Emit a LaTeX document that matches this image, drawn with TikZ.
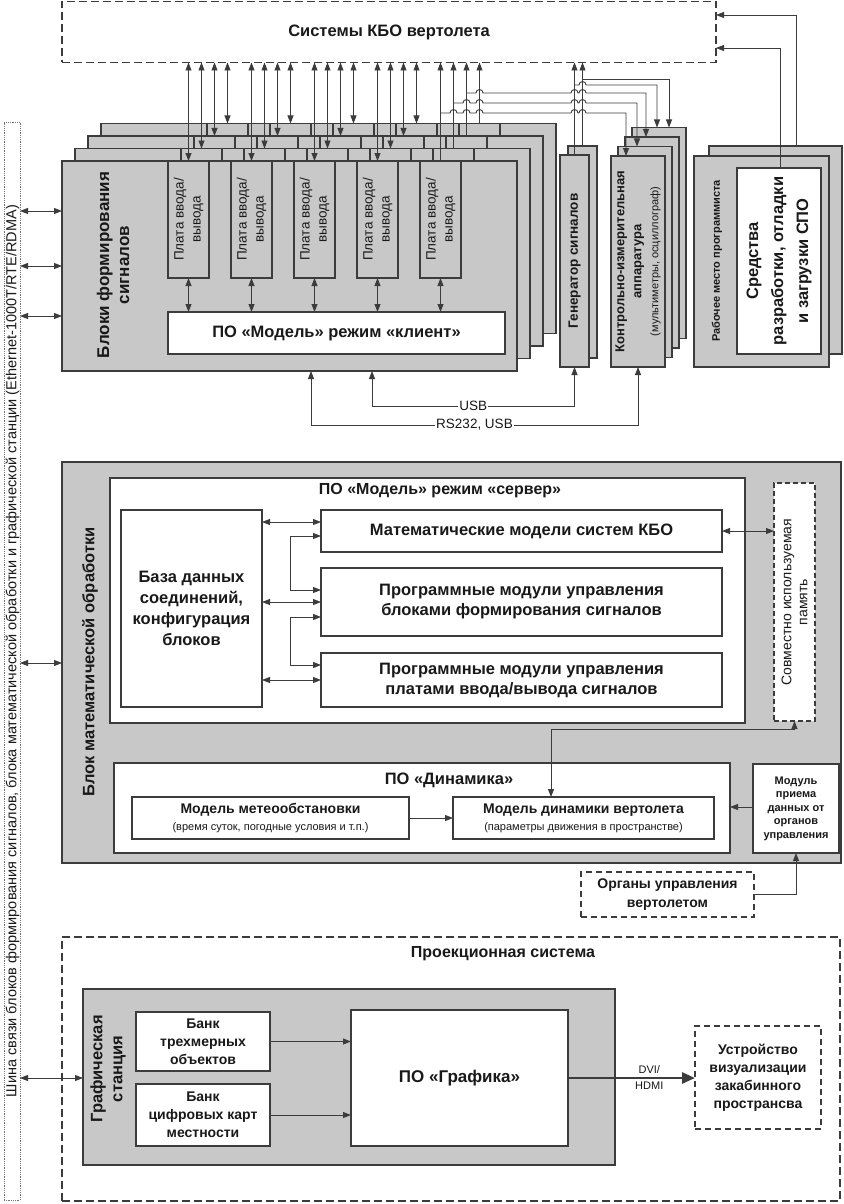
\documentclass[tikz,border=0pt]{standalone}
\usepackage{fontspec}
\usepackage{graphicx}
\setmainfont{Liberation Sans}
\usetikzlibrary{arrows.meta}
\definecolor{gbg}{RGB}{200,200,200}
\definecolor{ln}{RGB}{60,60,60}
\newcommand\fz[2]{\fontsize{#1}{#2}\selectfont}
\begin{document}
\begin{tikzpicture}[x=1pt,y=-1pt,
  every node/.style={inner sep=0pt,outer sep=0pt,text=black!90},
  sz/.style 2 args={minimum width=#1pt,minimum height=#2pt},
  plane/.style={draw=ln,fill=gbg,line width=1.3pt,anchor=north west},
  wbox/.style={draw=ln,fill=white,line width=1.3pt,anchor=north west},
  dbox/.style={draw=ln,fill=white,line width=1.4pt,dash pattern=on 8pt off 4pt,anchor=north west},
  con/.style={draw=ln,line width=0.9pt,>={Triangle[length=8pt,width=6pt]}},
  lbl/.style={fill=white,inner xsep=1pt,font=\fz{13.5}{16}},
  bt/.style={font=\bfseries\fz{16.5}{20},align=center},
]
\fill[white] (0,0) rectangle (843,1204);
\useasboundingbox (0,0) rectangle (843,1204);

% top system box
\node[dbox,sz={654}{61},font=\bfseries\fz{16.5}{20}] (kbo) at (62,1.5) {Системы КБО вертолета};

% bus
\node[draw=ln!70,densely dotted,line width=0.8pt,sz={16}{1078},anchor=north west] (bus) at (4,122) {};
\node[rotate=90,font=\fz{14.5}{17}] (bustext) at (12.5,651) {\resizebox{892pt}{\height}{Шина связи блоков формирования сигналов, блока математической обработки и графической станции (Ethernet-1000T/RTE/RDMA)}};

% signal forming blocks (stack)
\foreach \k in {3,2,1}{
  \node[plane,sz={455}{210}] (sp\k) at ({62+13*\k},{161-12.5*\k}) {};
  \foreach \j in {0,...,4}{
    \node[plane,sz={41}{117}] (c\k\j) at ({168+63*\j+13*\k},{161-12.5*\k}) {};
  }
}
\node[plane,sz={455}{210}] (sp0) at (62,161) {};
\foreach \j in {0,...,4}{
  \node[plane,sz={41}{117}] (c0\j) at ({168+63*\j},161) {};
  \node[rotate=90,font=\fz{13.5}{17},align=center] at (c0\j.center) {Плата ввода/\\вывода};
}
\node[rotate=90,bt,font=\bfseries\fz{17}{20}] (sptext) at (113,265) {Блоки формирования\\сигналов};
\node[wbox,sz={337}{42},font=\bfseries\fz{16.5}{20}] (cl) at (168,312) {ПО «Модель» режим «клиент»};
\foreach \j in {0,...,4}{
  \draw[con,<->] (c0\j.south) -- (c0\j.south |- cl.north);
}

% generator
\node[plane,sz={29}{212}] (gb) at (568,146) {};
\node[plane,sz={29}{212}] (gf) at (560,155) {};
\node[rotate=90,font=\bfseries\fz{13.5}{16}] at (gf.center) {Генератор сигналов};

% measuring instruments
\foreach \k in {3,2,1}{
  \node[plane,sz={54}{211}] (I\k) at ({611+7*\k},{156-9.5*\k}) {};
}
\node[plane,sz={54}{211}] (I0) at (611,156) {};
\node[rotate=90,align=center,font=\fz{11}{17}] at (I0.center) {{\bfseries\fz{13}{19}Контрольно-измерительная}\\{\bfseries\fz{13}{19}аппаратура}\\(мультиметры, осциллограф)};

% programmer workstation
\node[plane,sz={133}{208}] (wb) at (709,146) {};
\node[plane,sz={135}{211}] (wf) at (694,156) {};
\node[wbox,sz={84}{186}] (ww) at (737,168) {};
\node[rotate=90,font=\bfseries\fz{11}{13}] at (717,261) {Рабочее место программиста};
\node[rotate=90,font=\bfseries\fz{16.5}{25},align=center] at (ww.center) {Средства\\разработки, отладки\\и загрузки СПО};

% vertical links to the system box
\foreach \j in {0,...,3}{
  \foreach \k in {0,...,3}{
    \draw[con,<->] (c\k\j.north |- kbo.south) -- (c\k\j.north);
  }
}
\foreach \k in {0,...,3}{
  \draw[con,<-] (c\k4.north |- kbo.south) -- (c\k4.north);
}
\draw[con,<-] (gf.north |- kbo.south) -- (gf.north);
\draw[con,<-] (gb.north |- kbo.south) -- (gb.north);

% branches to instruments (with hops)
\draw[con,->] (c04.north |- 0,113) -- (450,113) arc[start angle=180,end angle=360,radius=3.5]
  -- (463,113) arc[start angle=180,end angle=360,radius=3.5]
  -- (476,113) arc[start angle=180,end angle=360,radius=3.5]
  -- (571,113) arc[start angle=180,end angle=360,radius=3.5]
  -- (579,113) arc[start angle=180,end angle=360,radius=3.5]
  -- (626,113) -- (I0.north -| 626,0);
\draw[con,->] (c14.north |- 0,103)
  -- (463,103) arc[start angle=180,end angle=360,radius=3.5]
  -- (476,103) arc[start angle=180,end angle=360,radius=3.5]
  -- (571,103) arc[start angle=180,end angle=360,radius=3.5]
  -- (579,103) arc[start angle=180,end angle=360,radius=3.5]
  -- (637,103) -- (I1.north -| 637,0);
\draw[con,->] (c24.north |- 0,93)
  -- (476,93) arc[start angle=180,end angle=360,radius=3.5]
  -- (571,93) arc[start angle=180,end angle=360,radius=3.5]
  -- (579,93) arc[start angle=180,end angle=360,radius=3.5]
  -- (646,93) -- (I2.north -| 646,0);
\draw[con,->] (gf.north |- 0,85)
  -- (579,85) arc[start angle=180,end angle=360,radius=3.5]
  -- (657,85) -- (I3.north -| 657,0);
\draw[con,->] (gb.north |- 0,79) -- (669,79) -- (I3.north -| 669,0);

% workstation to system box
\draw[con,->] (wb.north -| 796,0) -- (796,15) -- (kbo.east |- 0,15);
\draw[con,->] (ww.north -| 780,0) -- (780,48) -- (kbo.east |- 0,48);

% USB / RS232
\draw[con,<->] (sp0.south -| 372,0) -- (372,406) -- node[lbl]{USB} (gf.south |- 0,406) -- (gf.south);
\draw[con,<->] (sp0.south -| 311,0) -- (311,425) -- node[lbl]{RS232, USB} (I0.south |- 0,425) -- (I0.south);

% bus links (top)
\foreach \yy in {211,266,316}{
  \draw[con,<->] (bus.east |- 0,\yy) -- (sp0.west |- 0,\yy);
}

% math block
\node[plane,sz={779}{401}] (math) at (62,462) {};
\node[rotate=90,font=\bfseries\fz{16.5}{20}] at (90,662) {Блок математической обработки};
\draw[con,<->] (bus.east |- 0,663) -- (math.west |- 0,663);
\node[wbox,sz={635}{245}] (srv) at (110,478) {};
\node[font=\bfseries\fz{16}{20}] at (440,491) {ПО «Модель» режим «сервер»};
\node[wbox,sz={141}{197},bt,font=\bfseries\fz{16.5}{21}] (db) at (121,510) {База данных\\соединений,\\конфигурация\\блоков};
\node[wbox,sz={401}{42},bt] (m1) at (321,510) {Математические модели систем КБО};
\node[wbox,sz={401}{68},bt] (m2) at (321,568) {Программные модули управления\\блоками формирования сигналов};
\node[wbox,sz={401}{54},bt] (m3) at (321,653) {Программные модули управления\\платами ввода/вывода сигналов};
\foreach \yy in {522,602,680}{
  \draw[con,<->] (db.east |- 0,\yy) -- (m1.west |- 0,\yy);
}
\draw[con,<->] (m1.west |- 0,536) -- (290,536) -- (290,590) -- (m2.west |- 0,590);
\draw[con,<->] (m2.west |- 0,617) -- (290,617) -- (290,665) -- (m3.west |- 0,665);
\node[draw=ln,fill=white,line width=1.1pt,dash pattern=on 5pt off 3pt,anchor=north west,sz={41}{238}] (mem) at (774,483) {};
\node[rotate=90,align=center,font=\fz{14}{16}] at (mem.center) {Совместно используемая\\память};
\draw[con,<->] (m1.east) -- (mem.west |- m1.east);

\node[wbox,sz={616}{90}] (dynpo) at (114,763) {};
\node[font=\bfseries\fz{16.5}{20}] at (449,780) {ПО «Динамика»};
\node[wbox,sz={277}{42},align=center,font=\fz{11}{17}] (meteo) at (132,797) {{\bfseries\fz{14}{17}Модель метеообстановки}\\(время суток, погодные условия и т.п.)};
\node[wbox,sz={261}{42},align=center,font=\fz{11}{17}] (dyn) at (453,797) {{\bfseries\fz{14}{17}Модель динамики вертолета}\\(параметры движения в пространстве)};
\draw[con,->] (meteo.east) -- (dyn.west);
\draw[con,<->] (mem.south) -- (mem.south |- 0,729) -- (551,729) -- (dyn.north -| 551,0);
\node[wbox,sz={86}{89},align=center,font=\bfseries\fz{11}{13.5}] (mod) at (753,764) {Модуль\\приема\\данных от\\органов\\управления};
\draw[con,->] (mod.west |- 0,807) -- (dynpo.east |- 0,807);
\node[dbox,sz={173}{45},dash pattern=on 6pt off 4pt,align=center,font=\bfseries\fz{14}{19}] (org) at (581,872) {Органы управления\\вертолетом};
\draw[con,->] (org.east) -| (mod.south);

% projection system
\node[dbox,sz={778}{264}] (proj) at (62,937) {};
\node[font=\bfseries\fz{16}{20}] at (503,954) {Проекционная система};
\node[plane,sz={532}{176}] (gs) at (83,989) {};
\node[rotate=90,align=center,font=\bfseries\fz{16.5}{20}] at (108,1069) {Графическая\\станция};
\draw[con,<->] (bus.east |- 0,1078) -- (gs.west |- 0,1078);
\node[wbox,sz={134}{59},align=center,font=\bfseries\fz{14}{18}] (bank1) at (136,1012) {Банк\\трехмерных\\объектов};
\node[wbox,sz={134}{62},align=center,font=\bfseries\fz{14}{18}] (bank2) at (136,1084) {Банк\\цифровых карт\\местности};
\node[wbox,sz={217}{136},font=\bfseries\fz{17}{20}] (graf) at (351,1010) {ПО «Графика»};
\draw[con,->] (bank1.east) -- (graf.west |- bank1.east);
\draw[con,->] (bank2.east) -- (graf.west |- bank2.east);
\node[dbox,sz={126}{103},dash pattern=on 6pt off 4pt,align=center,font=\bfseries\fz{14}{18}] (dev) at (695,1026) {Устройство\\визуализации\\закабинного\\пространсва};
\draw[draw=ln,line width=2.6pt,-{Triangle[length=13pt,width=11pt]}] (graf.east |- 0,1078) -- node[pos=0.64,align=center,font=\fz{11}{16}]{DVI/\\HDMI} (dev.west |- 0,1078);
\end{tikzpicture}
\end{document}
